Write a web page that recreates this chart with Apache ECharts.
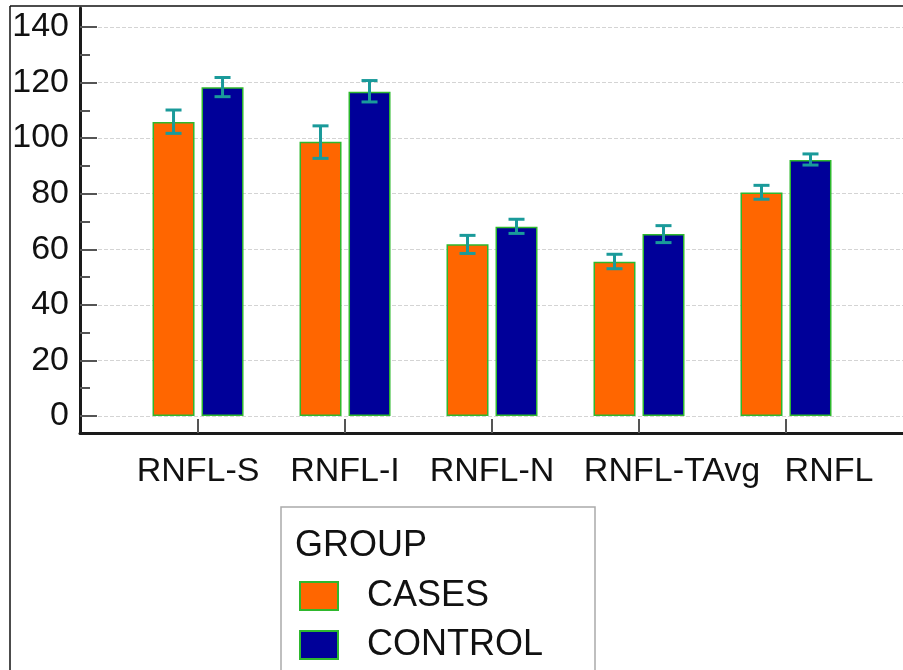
<!doctype html>
<html>
<head>
    <meta charset="utf-8">
    <title>RNFL by group</title>
    <script src="https://cdn.jsdelivr.net/npm/echarts@6/dist/echarts.min.js"></script>
</head>
<body style="margin:0;background:#fff;">
    <div id="container" style="width:903px;height:670px;"></div>
    <script type="text/javascript">
        // categories and values
        var categories = ['RNFL-S', 'RNFL-I', 'RNFL-N', 'RNFL-TAvg', 'RNFL'];
        var casesMean = [105.8, 98.7, 61.8, 55.5, 80.4];
        var casesLow = [101.7, 92.7, 58.5, 53.0, 78.0];
        var casesHigh = [110.1, 104.4, 65.0, 58.2, 83.0];
        var controlMean = [118.3, 116.7, 68.1, 65.5, 92.1];
        var controlLow = [114.9, 113.0, 65.7, 62.4, 90.3];
        var controlHigh = [121.8, 120.7, 70.8, 68.5, 94.3];
        var yTicks = [0, 20, 40, 60, 80, 100, 120, 140];
        var yMinorTicks = [10, 30, 50, 70, 90, 110, 130];
        var xTicks = [0, 1, 2, 3, 4];

        var font = "'Liberation Sans', Arial, sans-serif";
        var barW = 42, barGapPx = 7;
        var errColor = '#1a9a9a';
        // the last two labels are pushed right so they do not overlap (left padding in px)
        var labelPad = [0, 0, 0, 66, 86];

        function pairs(vals) {
            return vals.map(function (v, i) { return [i, v]; });
        }
        function errData(lo, hi) {
            return lo.map(function (v, i) { return [i, v, hi[i]]; });
        }
        function errSeries(name, lo, hi, offset) {
            return {
                name: name + ' err',
                type: 'custom',
                data: errData(lo, hi),
                z: 5,
                renderItem: function (params, api) {
                    var top = api.coord([api.value(0), api.value(2)]);
                    var bot = api.coord([api.value(0), api.value(1)]);
                    var cx = top[0] + offset;
                    var st = { stroke: errColor, lineWidth: 3 };
                    return {
                        type: 'group',
                        children: [
                            { type: 'line', shape: { x1: cx, y1: top[1], x2: cx, y2: bot[1] }, style: st },
                            { type: 'line', shape: { x1: cx - 8, y1: top[1], x2: cx + 8, y2: top[1] }, style: st },
                            { type: 'line', shape: { x1: cx - 8, y1: bot[1], x2: cx + 8, y2: bot[1] }, style: st }
                        ]
                    };
                }
            };
        }

        var rich = {};
        labelPad.forEach(function (p, i) {
            rich['c' + i] = { fontSize: 34, color: '#111', fontFamily: font, padding: [0, 0, 0, p] };
        });

        var shift = barW / 2 + barGapPx / 2;

        var option = {
            animation: false,
            backgroundColor: '#fff',
            textStyle: { fontFamily: font },
            grid: { left: 80, right: 0, top: 8, bottom: 237, outerBoundsMode: 'none' },
            xAxis: {
                type: 'value',
                min: -0.803,
                max: 4.796,
                axisLine: { show: true, onZero: false, lineStyle: { color: '#1a1a1a', width: 3 } },
                axisTick: { show: true, inside: true, length: 14, customValues: xTicks, lineStyle: { color: '#555', width: 2 } },
                axisLabel: {
                    customValues: xTicks, margin: 22, fontSize: 34, color: '#111', fontFamily: font,
                    formatter: function (v) { return '{c' + v + '|' + categories[v] + '}'; },
                    rich: rich
                },
                splitLine: { show: false }
            },
            yAxis: [{
                type: 'value',
                min: -6.1,
                max: 146.8,
                axisLine: { show: true, onZero: false, lineStyle: { color: '#1a1a1a', width: 3 } },
                axisTick: { show: true, inside: true, length: 17, customValues: yTicks, lineStyle: { color: '#555', width: 2 } },
                axisLabel: { customValues: yTicks, margin: 11, fontSize: 34, color: '#111', fontFamily: font },
                splitLine: { show: true, lineStyle: { color: '#d4d4d4', type: 'dashed', width: 1 } }
            }, {
                type: 'value',
                position: 'left',
                min: -6.1,
                max: 146.8,
                axisLine: { show: false, onZero: false },
                axisTick: { show: true, inside: true, length: 10, customValues: yMinorTicks, lineStyle: { color: '#555', width: 2 } },
                axisLabel: { show: false },
                splitLine: { show: false }
            }],
            legend: {
                data: ['CASES', 'CONTROL'],
                orient: 'vertical',
                left: 299,
                top: 578,
                padding: 0,
                itemWidth: 38,
                itemHeight: 28,
                itemGap: 13,
                icon: 'rect',
                textStyle: { fontSize: 36, color: '#111', fontFamily: font, padding: [0, 0, 0, 24] }
            },
            graphic: [
                { type: 'line', shape: { x1: 10, y1: 6, x2: 903, y2: 6 }, style: { stroke: '#111', lineWidth: 1.5 } },
                { type: 'line', shape: { x1: 10, y1: 6, x2: 10, y2: 670 }, style: { stroke: '#111', lineWidth: 1.5 } },
                { type: 'rect', shape: { x: 281, y: 507, width: 314, height: 200 }, style: { fill: 'none', stroke: '#aaa', lineWidth: 1.5 } },
                { type: 'text', left: 295, top: 528, style: { text: 'GROUP', font: '36px ' + font, fill: '#111' } }
            ],
            series: [{
                name: 'CASES',
                type: 'bar',
                data: pairs(casesMean),
                barWidth: barW,
                barGap: (barGapPx / barW * 100) + '%',
                itemStyle: { color: '#ff6600', borderColor: '#2eb82e', borderWidth: 1.5 }
            }, {
                name: 'CONTROL',
                type: 'bar',
                data: pairs(controlMean),
                barWidth: barW,
                barGap: (barGapPx / barW * 100) + '%',
                itemStyle: { color: '#000099', borderColor: '#2eb82e', borderWidth: 1.5 }
            },
            errSeries('CASES', casesLow, casesHigh, -shift),
            errSeries('CONTROL', controlLow, controlHigh, shift)]
        };

        var myChart = echarts.init(document.getElementById('container'));
        myChart.setOption(option);
    </script>
</body>
</html>
